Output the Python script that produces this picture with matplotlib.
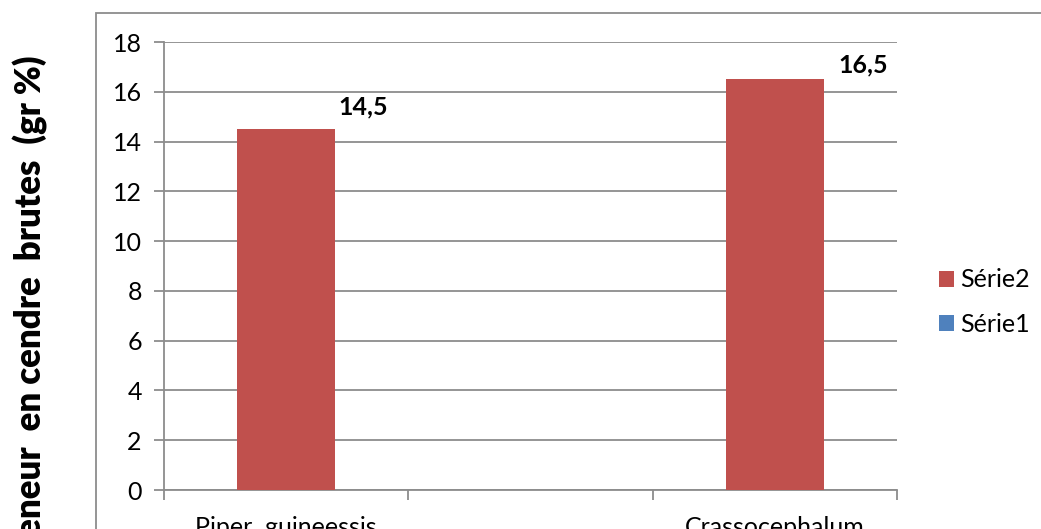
import matplotlib
matplotlib.use("Agg")
import matplotlib.pyplot as plt
from matplotlib.patches import Rectangle
import numpy as np

plt.rcParams['font.family'] = ['Lato', 'DejaVu Sans']

categories = ["Piper  guineessis", "", "Crassocephalum"]
serie2 = [14.5, np.nan, 16.5]
serie1 = [0, np.nan, 0]
value_labels = ["14,5", "", "16,5"]
y_ticks = [0, 2, 4, 6, 8, 10, 12, 14, 16, 18]

W, H = 1041, 529
fig = plt.figure(figsize=(W / 100, H / 100), dpi=100)

# outer chart frame (extends past the figure edges)
fig.patches.append(Rectangle((96 / W, -0.1), 1.2, (H - 13) / H + 0.1,
                             transform=fig.transFigure, fill=False,
                             edgecolor='#8c8c8c', linewidth=1.3))

ax = fig.add_axes([164 / W, 39 / H, (897 - 164) / W, (490 - 42) / H])

x = np.arange(len(categories))
width = 0.4
ax.bar(x, serie1, width, color='#4F81BD', label='Série1', zorder=3)
ax.bar(x, serie2, width, color='#C0504D', label='Série2', zorder=3)

# value labels placed above-right of the bars
offsets = [(3, 22), (15, 14)]
for xi, v, lab in zip(x, serie2, value_labels):
    if lab:
        off = offsets[0] if xi == 0 else offsets[1]
        ax.annotate(lab, xy=(xi + width / 2, v), xytext=off,
                    textcoords='offset pixels', ha='left', va='center',
                    fontsize=18, fontweight='bold', color='black')

ax.set_xlim(-0.5, len(categories) - 0.5)
ax.set_ylim(0, 18)
ax.set_yticks(y_ticks)
ax.set_yticklabels([str(t) for t in y_ticks])
ax.yaxis.grid(True, color='#8c8c8c', linewidth=1.3, zorder=0)
ax.set_axisbelow(True)

ax.set_xticks(x)
ax.set_xticklabels(categories, fontsize=18)
ax.set_xticks(np.arange(len(categories) + 1) - 0.5, minor=True)
ax.tick_params(axis='x', which='major', length=0, pad=19)
ax.tick_params(axis='x', which='minor', length=7, width=1.3, color='#8c8c8c')
ax.tick_params(axis='y', length=7, width=1.3, color='#8c8c8c', labelsize=18, pad=9)

for s in ['top', 'right']:
    ax.spines[s].set_visible(False)
for s in ['left', 'bottom']:
    ax.spines[s].set_color('#8c8c8c')
    ax.spines[s].set_linewidth(1.3)

fig.text(30 / W, 1 - 55 / H, "Teneur  en cendre  brutes  (gr %)",
         rotation=90, ha='center', va='top', fontsize=25, fontweight='heavy')

handles, labels = ax.get_legend_handles_labels()
order = [1, 0]
leg = fig.legend([handles[i] for i in order], [labels[i] for i in order],
                 loc='center left', bbox_to_anchor=(939 / W, 1 - 302 / H),
                 frameon=False, fontsize=18, handlelength=0.6, handleheight=0.6,
                 handletextpad=0.25, labelspacing=0.85, borderaxespad=0,
                 borderpad=0)

fig.savefig("out.png", dpi=100)
